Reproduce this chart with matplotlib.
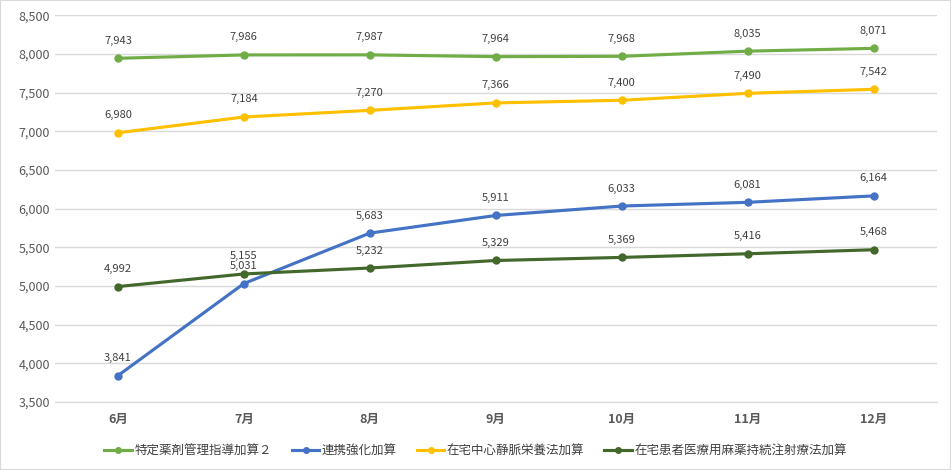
import matplotlib.pyplot as plt
import matplotlib.patches as mp

plt.rcParams['font.family'] = ['Noto Sans CJK JP', 'DejaVu Sans']

months = ['6月', '7月', '8月', '9月', '10月', '11月', '12月']
tokutei = [7943, 7986, 7987, 7964, 7968, 8035, 8071]
renkei = [3841, 5031, 5683, 5911, 6033, 6081, 6164]
zaitaku_iv = [6980, 7184, 7270, 7366, 7400, 7490, 7542]
zaitaku_mayaku = [4992, 5155, 5232, 5329, 5369, 5416, 5468]

series = [
    ('特定薬剤管理指導加算２', tokutei, '#70AD47'),
    ('連携強化加算', renkei, '#4472C4'),
    ('在宅中心静脈栄養法加算', zaitaku_iv, '#FFC000'),
    ('在宅患者医療用麻薬持続注射療法加算', zaitaku_mayaku, '#43682B'),
]

fg = plt.figure(figsize=(9.51, 4.70), dpi=100)
ax = fg.add_axes([0.0578, 0.1447, 0.927, 0.823])
fg.patches.append(mp.Rectangle((0, 0), 1, 1, transform=fg.transFigure, fill=False,
                               edgecolor='#D9D9D9', linewidth=1.5))

x = list(range(len(months)))
for name, vals, c in series:
    ax.plot(x, vals, color=c, lw=2.25, marker='o', ms=5, label=name)
    for i, v in zip(x, vals):
        ax.annotate(f'{v:,}', (i, v), xytext=(0, 9), textcoords='offset points',
                    ha='center', va='bottom', fontsize=8, color='#404040')

ax.set_xlim(-0.5, len(months) - 0.5)
ax.set_ylim(3500, 8500)
ax.set_yticks(range(3500, 8501, 500))
ax.set_yticklabels([f'{v:,}' for v in range(3500, 8501, 500)])
ax.set_xticks(x)
ax.set_xticklabels(months, fontweight='bold')
ax.tick_params(axis='both', length=0, labelsize=9, colors='#595959')
ax.tick_params(axis='x', pad=8)
ax.grid(axis='y', color='#D9D9D9', lw=1)
ax.set_axisbelow(True)
for s in ['top', 'right', 'left']:
    ax.spines[s].set_visible(False)
ax.spines['bottom'].set_color('#D9D9D9')

ax.legend(loc='center', bbox_to_anchor=(0.5, 1 - 451 / 470), bbox_transform=fg.transFigure,
          ncol=4, frameon=False, fontsize=9, labelcolor='#404040', handlelength=2.2,
          columnspacing=1.6, handletextpad=0.2, markerscale=0.8)

fg.savefig('out.png', dpi=100)
